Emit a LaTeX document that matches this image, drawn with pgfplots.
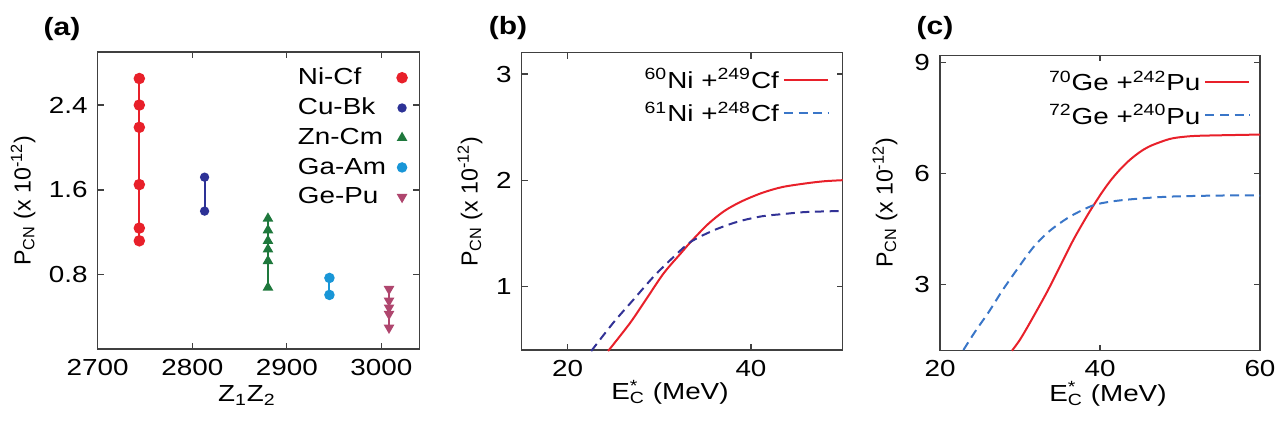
\documentclass[border=0pt]{standalone}
\usepackage{fontspec}
\setmainfont{Liberation Sans}[FakeStretch=1.2]
\newfontfamily\plainsans{Liberation Sans}
\usepackage{pgfplots}
\pgfplotsset{compat=1.18}
\definecolor{cred}{RGB}{232,32,42}
\definecolor{cnavy}{RGB}{50,50,150}
\definecolor{clblue}{RGB}{58,118,200}
\definecolor{ccu}{RGB}{45,50,150}
\definecolor{czn}{RGB}{30,120,60}
\definecolor{cga}{RGB}{25,150,215}
\definecolor{cge}{RGB}{175,70,110}
\newcommand{\fs}{\fontsize{11.6}{13}\selectfont}
\pgfplotsset{
  every axis/.append style={
    scale only axis,
    font=\fs,
    axis line style={black!75, line width=0.6pt},
    tick style={black!75, line width=0.6pt},
    major tick length=3pt,
    tick align=inside,
    /pgf/number format/assume math mode=true,
    tick label style={font=\fs},
    xticklabel style={yshift=-1.5pt},
    yticklabel style={xshift=-1.5pt},
    ylabel style={font=\plainsans\fontsize{11.6}{13}\selectfont},
    clip=false,
  },
}
\begin{document}
\begin{tikzpicture}
\useasboundingbox (0,0) rectangle (638pt,210pt);
\node[font=\bfseries\fontsize{12.5}{14}\selectfont] at (31pt,195.5pt) {(a)};
\node[font=\bfseries\fontsize{12.5}{14}\selectfont] at (254pt,196pt) {(b)};
\node[font=\bfseries\fontsize{12.5}{14}\selectfont] at (467.5pt,196pt) {(c)};
% Panel (a)
\begin{axis}[
  at={(48.85pt,35.5pt)}, anchor=south west,
  width=160.8pt, height=148.5pt,
  xmin=2700, xmax=3040, ymin=0.1, ymax=2.9,
  xtick={2700,2800,2900,3000},
  ytick={0.8,1.6,2.4},
  yticklabel style={/pgf/number format/.cd, fixed, precision=1, fixed zerofill},
  xticklabel style={/pgf/number format/.cd, set thousands separator={}},
  xlabel={Z\textsubscript{1}Z\textsubscript{2}},
  xlabel style={at={(rel axis cs:0.464,-0.178)}, anchor=base},
  ylabel={P\textsubscript{CN} (x 10\textsuperscript{-12})},
  ylabel style={at={(rel axis cs:-0.232,0.5)}, anchor=center},
  legend style={at={(rel axis cs:0.985,0.975)}, anchor=north east, draw=none, fill=none,
    font=\fs, row sep=1.2pt},
  legend plot pos=right,
  legend cell align=left,
  legend image code/.code={\path[draw=none,fill=none] (0pt,0pt) -- (9pt,0pt); \draw[#1,only marks] plot coordinates {(6pt,0pt)};},
]
\addplot[cred, line width=1.1pt, mark=*, mark size=2.3pt] coordinates {
 (2744,1.12) (2744,1.24) (2744,1.65) (2744,2.19) (2744,2.40) (2744,2.65)};
\addlegendentry{Ni-Cf}
\addplot[ccu, line width=1pt, mark=*, mark size=1.8pt] coordinates {
 (2813,1.40) (2813,1.72)};
\addlegendentry{Cu-Bk}
\addplot[czn, line width=1pt, mark=triangle*, mark size=2.1pt] coordinates {
 (2880,0.68) (2880,0.93) (2880,1.04) (2880,1.12) (2880,1.22) (2880,1.33)};
\addlegendentry{Zn-Cm}
\addplot[cga, line width=1pt, mark=*, mark size=2.1pt] coordinates {
 (2945,0.61) (2945,0.77)};
\addlegendentry{Ga-Am}
\addplot[cge, line width=1pt, mark=triangle*, mark size=2.1pt, mark options={rotate=180}] coordinates {
 (3008,0.30) (3008,0.43) (3008,0.49) (3008,0.555) (3008,0.665)};
\addlegendentry{Ge-Pu}
\end{axis}
% Panel (b)
\begin{axis}[
  at={(260.85pt,35pt)}, anchor=south west,
  width=160.5pt, height=148.6pt,
  xmin=15, xmax=50, ymin=0.4, ymax=3.2,
  xtick={20,40}, ytick={1,2,3},
  xlabel={E\rlap{\textsuperscript{*}}\textsubscript{C} (MeV)},
  xlabel style={at={(rel axis cs:0.462,-0.168)}, anchor=base},
  ylabel={P\textsubscript{CN} (x 10\textsuperscript{-12})},
  ylabel style={at={(rel axis cs:-0.161,0.5)}, anchor=center},
  legend style={at={(rel axis cs:0.977,0.975)}, anchor=north east, draw=none, fill=none,
    font=\fs, row sep=1pt},
  legend plot pos=right,
  legend cell align=right,
  legend image code/.code={\draw[#1] (0pt,0pt) -- (22pt,0pt);},
]
\addplot[cred, line width=1pt, smooth] coordinates {
 (24.42,0.39) (26.82,0.655) (28.66,0.89) (30.5,1.125) (32.34,1.31) (33.45,1.42)
 (35.3,1.585) (37.1,1.71) (38.97,1.80) (41.2,1.88) (43.4,1.935) (46,1.97) (48,1.99) (50,2.0)};
\addlegendentry{\textsuperscript{60}Ni +\textsuperscript{249}Cf}
\addplot[cnavy, line width=1pt, dash pattern=on 4.5pt off 2.8pt, smooth, forget plot] coordinates {
 (22.58,0.39) (24.97,0.655) (27.18,0.874) (29.4,1.093) (31.6,1.28) (33.45,1.42)
 (36.0,1.53) (38.6,1.61) (41.2,1.66) (43.4,1.68) (46,1.70) (50,1.71)};
\addlegendimage{clblue, line width=1pt, dash pattern=on 4.5pt off 2.8pt}
\addlegendentry{\textsuperscript{61}Ni +\textsuperscript{248}Cf}
\end{axis}
% Panel (c)
\begin{axis}[
  at={(470pt,34.65pt)}, anchor=south west,
  width=160pt, height=147.8pt,
  xmin=20, xmax=60, ymin=1.2, ymax=9.2,
  xtick={20,40,60}, ytick={3,6,9},
  xlabel={E\rlap{\textsuperscript{*}}\textsubscript{C} (MeV)},
  xlabel style={at={(rel axis cs:0.525,-0.172)}, anchor=base},
  ylabel={P\textsubscript{CN} (x 10\textsuperscript{-12})},
  ylabel style={at={(rel axis cs:-0.172,0.5)}, anchor=center},
  legend style={at={(rel axis cs:0.99,0.975)}, anchor=north east, draw=none, fill=none,
    font=\fs, row sep=1pt},
  legend plot pos=right,
  legend cell align=right,
  legend image code/.code={\draw[#1] (0pt,0pt) -- (22pt,0pt);},
]
\addplot[cred, line width=1pt, smooth] coordinates {
 (29.0,1.2) (30.0,1.5) (31.25,1.96) (33.33,2.77) (35.0,3.48) (36.67,4.2)
 (38.33,4.83) (39.3,5.17) (40.3,5.5) (41.3,5.8) (42.4,6.08) (43.5,6.32)
 (44.5,6.5) (45.5,6.65) (46.6,6.77) (48.7,6.93) (50.5,6.99) (52.8,7.02) (60,7.05)};
\addlegendentry{\textsuperscript{70}Ge +\textsuperscript{242}Pu}
\addplot[clblue, line width=1pt, dash pattern=on 4.5pt off 2.8pt, smooth] coordinates {
 (22.93,1.22) (24.4,1.72) (26.1,2.25) (27.8,2.83) (29.6,3.39) (31.67,4.0)
 (33.75,4.45) (36.25,4.83) (39.1,5.13) (41.5,5.24) (44.5,5.31) (48.66,5.37)
 (55,5.40) (60,5.40)};
\addlegendentry{\textsuperscript{72}Ge +\textsuperscript{240}Pu}
\end{axis}
\end{tikzpicture}
\end{document}
